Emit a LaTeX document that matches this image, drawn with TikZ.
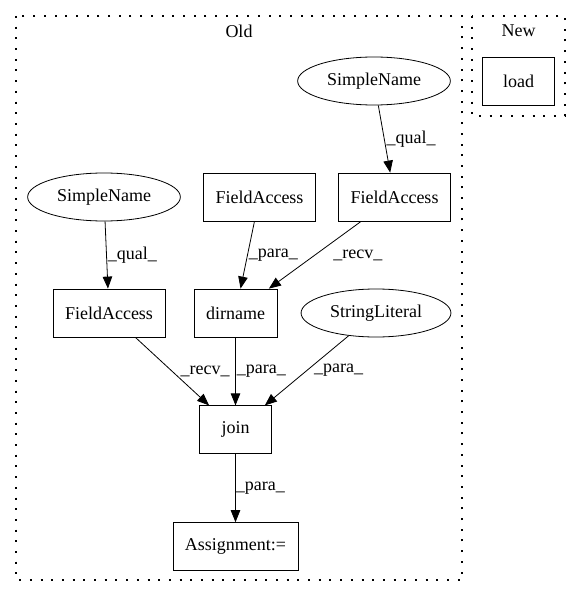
\documentclass[tikz,border=0pt]{standalone}
\usepackage{fontspec}
\setmainfont{Liberation Serif}
\usetikzlibrary{arrows.meta, positioning, shapes.geometric}

\begin{document}
\begin{tikzpicture}[x=1pt, y=-1pt, node distance=68pt and 20pt,
    >={Triangle[length=12pt, width=9.5pt]},
    font=\fontsize{18}{21}\selectfont,
    box/.style={draw, line width=0.8pt, rectangle, minimum width=72pt, minimum height=48pt, inner xsep=12pt},
    oval/.style={draw, line width=0.8pt, ellipse, minimum height=48pt, inner xsep=7pt, inner ysep=0pt},
    cluster/.style={draw, line width=1.3pt, dash pattern=on 2pt off 8.7pt},
    lbl/.style={anchor=west, inner sep=0pt},
    conn/.style={->, line width=0.8pt}]
    \useasboundingbox (0,0) rectangle (581,596);

    % Clusters
    \draw[cluster] (16,16) rectangle (462,580);
    \node (oldlbl) at (239,31) {Old};
    \draw[cluster] (472,16) rectangle (565,116);
    \node (newlbl) at (518.5,31) {New};

    % Nodes
    \node[oval] (sn1) at (374,81) {SimpleName};
    \node[box] (load) at (518.5,81) {load};
    \node[oval] (sn2) at (104,197) {SimpleName};
    \node[box] (fa2) at (259.5,197) {FieldAccess};
    \node[box] (fa1) at (394.5,197) {FieldAccess};
    \node[box] (fa3) at (109,313) {FieldAccess};
    \node[box] (dirname) at (235.5,313) {dirname};
    \node[oval] (str) at (376,313) {StringLiteral};
    \node[box, below=of dirname] (join) {join};
    \node[box, below=of join] (asgn) {Assignment:=};

    % Arrows
    \draw[conn] (sn1) -- node[lbl, xshift=2pt] {\_qual\_} (fa1);
    \draw[conn] (sn2) -- node[lbl, xshift=1pt] {\_qual\_} (fa3);
    \draw[conn] (fa2) -- node[lbl, xshift=1pt] {\_para\_} (dirname);
    \draw[conn] (fa1) -- node[lbl, xshift=18pt] {\_recv\_} (dirname);
    \draw[conn] (fa3) -- node[lbl, xshift=8pt] {\_recv\_} (join);
    \draw[conn] (dirname) -- node[lbl, xshift=1pt] {\_para\_} (join);
    \draw[conn] (str) -- node[lbl, xshift=7pt] {\_para\_} (join);
    \draw[conn] (join) -- node[lbl] {\_para\_} (asgn);
\end{tikzpicture}
\end{document}
